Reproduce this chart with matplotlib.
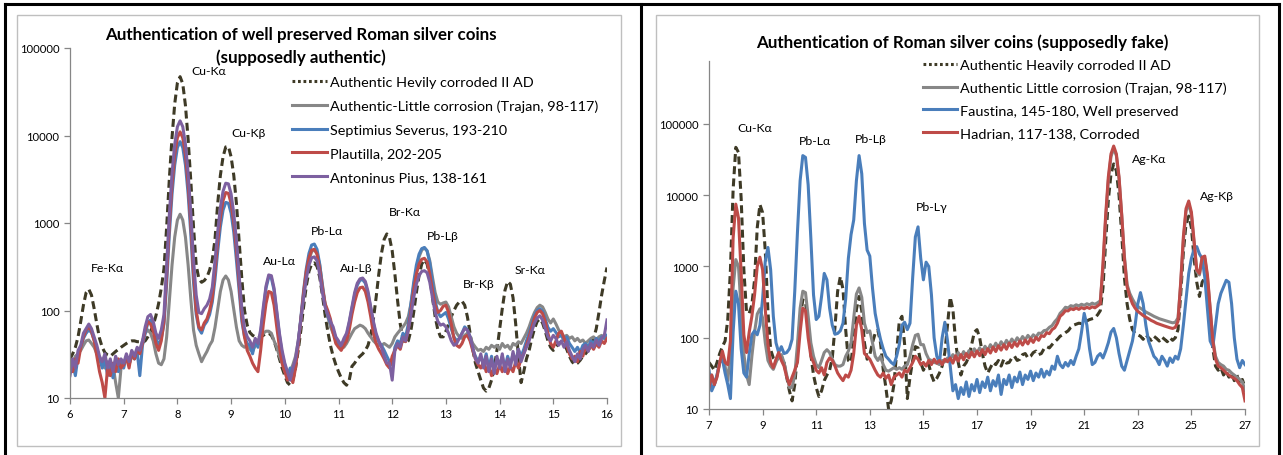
import numpy as np
import matplotlib
matplotlib.use("Agg")
import matplotlib.pyplot as plt
from matplotlib.lines import Line2D
from matplotlib.patches import Rectangle
from matplotlib.ticker import FixedLocator, FuncFormatter, NullLocator

plt.rcParams['font.family'] = ['Lato', 'DejaVu Sans']

# ---------------------------------------------------------------------------
# XRF spectra, counts per channel
# ---------------------------------------------------------------------------
# Left panel: 6 - 16 keV, 0.05 keV channels (one row per keV)
energy_authentic = np.round(np.arange(6.0, 16.0 + 1e-9, 0.05), 2)

corroded_2ad_a = [
    28, 32, 38, 50, 75, 115, 160, 175, 150, 105, 70, 48, 38, 33, 31, 30, 32, 34, 36, 38,
    40, 42, 44, 45, 45, 44, 44, 43, 45, 50, 58, 68, 87, 120, 180, 300, 900, 3200, 9500, 23000,
    40000, 47000, 39000, 22000, 9000, 3000, 900, 330, 230, 210, 220, 240, 290, 380, 650, 1650, 3500, 5700, 7400, 7500,
    5700, 3500, 1650, 620, 230, 100, 68, 56, 52, 50, 48, 50, 52, 55, 55, 52, 45, 36, 28, 22,
    18, 15, 14, 16, 22, 35, 60, 110, 190, 280, 340, 350, 320, 240, 150, 90, 58, 40, 30, 24,
    20, 17, 15, 14, 16, 23, 25, 28, 30, 32, 35, 40, 52, 80, 140, 260, 450, 650, 750, 680,
    480, 260, 130, 70, 48, 42, 45, 60, 95, 160, 250, 340, 380, 340, 240, 140, 85, 60, 50, 50,
    58, 70, 85, 100, 115, 125, 128, 115, 85, 55, 36, 25, 20, 16, 13, 12, 13, 16, 22, 35,
    60, 105, 170, 215, 200, 140, 70, 30, 15, 20, 28, 35, 48, 62, 75, 80, 72, 58, 45, 38,
    35, 38, 42, 44, 42, 36, 30, 26, 24, 25, 27, 30, 32, 35, 40, 48, 62, 95, 150, 220,
    310,
]
trajan_a = [
    28, 25, 30, 32, 35, 40, 45, 46, 42, 38, 32, 28, 24, 22, 26, 20, 24, 15, 10, 22,
    25, 28, 24, 30, 28, 32, 35, 45, 55, 60, 55, 45, 32, 25, 24, 28, 50, 130, 330, 690,
    1080, 1260, 1080, 690, 330, 135, 60, 40, 32, 26, 30, 34, 40, 45, 64, 103, 165, 223, 248, 223,
    165, 103, 64, 45, 40, 38, 40, 36, 34, 40, 45, 50, 55, 58, 58, 55, 45, 38, 30, 25,
    20, 18, 20, 24, 30, 45, 80, 150, 260, 380, 470, 500, 450, 330, 200, 120, 85, 65, 55, 48,
    42, 40, 38, 42, 48, 55, 62, 65, 68, 66, 62, 55, 50, 45, 42, 40, 40, 42, 40, 38,
    42, 50, 55, 60, 65, 72, 85, 120, 190, 290, 410, 490, 520, 480, 370, 240, 160, 125, 118, 122,
    125, 110, 85, 65, 55, 50, 48, 52, 55, 50, 42, 38, 35, 36, 34, 38, 36, 40, 38, 40,
    36, 42, 38, 40, 36, 42, 40, 44, 42, 48, 55, 65, 80, 95, 108, 115, 110, 95, 80, 72,
    80, 70, 60, 55, 50, 52, 48, 50, 45, 48, 44, 46, 42, 45, 48, 50, 46, 50, 52, 48,
    50,
]
severus = [
    20, 25, 18, 30, 38, 48, 55, 60, 56, 46, 36, 28, 22, 28, 18, 24, 17, 26, 20, 25,
    22, 30, 24, 32, 28, 34, 18, 40, 55, 72, 78, 65, 48, 40, 48, 70, 200, 740, 2130, 4590,
    7280, 8500, 7280, 4590, 2130, 740, 210, 90, 62, 55, 68, 75, 90, 125, 225, 470, 900, 1400, 1720, 1680,
    1300, 780, 370, 165, 75, 50, 42, 40, 32, 45, 38, 55, 100, 180, 240, 235, 170, 95, 52, 32,
    24, 18, 22, 18, 26, 42, 85, 170, 300, 450, 560, 575, 500, 340, 190, 115, 88, 72, 60, 48,
    42, 38, 44, 52, 72, 105, 150, 195, 222, 225, 205, 155, 105, 72, 52, 44, 40, 35, 30, 26,
    24, 38, 45, 42, 55, 50, 70, 120, 210, 330, 440, 510, 525, 480, 350, 210, 130, 95, 85, 90,
    95, 80, 62, 50, 45, 48, 55, 65, 60, 50, 36, 30, 26, 30, 24, 32, 22, 30, 20, 28,
    24, 30, 22, 30, 24, 32, 26, 36, 30, 36, 45, 55, 70, 88, 100, 105, 98, 80, 64, 58,
    62, 56, 50, 52, 45, 50, 42, 38, 34, 38, 33, 40, 42, 38, 45, 42, 48, 44, 50, 48,
    52,
]
plautilla = [
    22, 20, 28, 25, 38, 50, 60, 65, 58, 45, 30, 20, 15, 10, 22, 18, 25, 20, 28, 22,
    24, 30, 22, 34, 28, 36, 32, 42, 60, 75, 70, 58, 42, 35, 45, 75, 250, 950, 2750, 5940,
    9430, 11000, 9430, 5940, 2750, 960, 270, 100, 65, 60, 72, 80, 100, 140, 280, 600, 1150, 1800, 2230, 2180,
    1680, 1000, 480, 200, 85, 50, 35, 30, 25, 22, 20, 35, 70, 120, 165, 160, 115, 65, 38, 25,
    20, 16, 18, 15, 22, 40, 80, 160, 280, 400, 490, 500, 440, 300, 180, 120, 100, 80, 55, 42,
    38, 35, 40, 45, 60, 90, 125, 160, 182, 185, 165, 125, 85, 55, 42, 36, 32, 28, 24, 22,
    30, 35, 40, 36, 48, 44, 60, 100, 170, 260, 340, 385, 395, 360, 260, 170, 115, 95, 100, 112,
    115, 95, 70, 48, 40, 38, 42, 50, 52, 45, 35, 28, 24, 22, 26, 20, 24, 18, 22, 19,
    24, 20, 25, 19, 23, 20, 26, 22, 28, 32, 40, 50, 65, 82, 95, 100, 92, 75, 55, 42,
    38, 45, 55, 58, 48, 40, 32, 28, 30, 26, 34, 30, 38, 35, 40, 36, 42, 38, 45, 42,
    48,
]
antoninus = [
    18, 28, 22, 35, 40, 55, 62, 70, 62, 50, 40, 30, 26, 32, 22, 28, 20, 30, 24, 28,
    25, 32, 26, 35, 30, 38, 35, 45, 65, 85, 90, 75, 55, 48, 60, 90, 330, 1250, 3700, 7900,
    12600, 14700, 12600, 7900, 3700, 1300, 380, 150, 95, 92, 105, 115, 135, 185, 370, 790, 1500, 2300, 2850, 2800,
    2150, 1280, 620, 250, 105, 62, 50, 45, 38, 48, 42, 60, 110, 190, 255, 250, 180, 100, 55, 35,
    25, 20, 16, 22, 28, 45, 80, 140, 230, 330, 400, 410, 370, 260, 160, 110, 90, 75, 65, 50,
    45, 40, 48, 55, 75, 110, 160, 205, 230, 235, 215, 165, 110, 75, 55, 45, 38, 30, 25, 25,
    16, 35, 42, 38, 50, 45, 60, 90, 140, 200, 250, 280, 285, 270, 210, 140, 95, 75, 68, 70,
    65, 55, 45, 40, 42, 48, 55, 62, 60, 50, 38, 28, 25, 32, 22, 30, 20, 28, 19, 30,
    22, 32, 20, 28, 22, 34, 24, 36, 26, 32, 38, 45, 58, 72, 82, 87, 78, 62, 50, 45,
    52, 48, 40, 45, 38, 44, 35, 30, 26, 32, 28, 36, 40, 34, 42, 38, 46, 40, 48, 52,
    78,
]

# Right panel: 7 - 27 keV, 0.1 keV channels (one row per keV)
energy_fake = np.round(np.arange(7.0, 27.0 + 1e-9, 0.1), 1)

corroded_2ad_b = [
    45, 40, 35, 45, 60, 75, 90, 180, 900, 12000,
    47000, 40000, 9000, 900, 230, 220, 290, 650, 3500, 7400,
    5700, 1650, 230, 68, 52, 48, 52, 55, 45, 28,
    18, 13, 22, 60, 190, 340, 320, 150, 58, 30,
    20, 15, 18, 25, 30, 35, 52, 140, 450, 720,
    480, 130, 48, 45, 95, 250, 380, 240, 85, 50,
    58, 85, 115, 128, 85, 36, 20, 10, 13, 22,
    60, 170, 200, 80, 14, 28, 48, 75, 72, 45,
    35, 42, 42, 30, 24, 27, 32, 40, 62, 150,
    370, 250, 90, 45, 30, 40, 45, 55, 80, 120,
    130, 100, 60, 40, 32, 38, 45, 42, 48, 40,
    50, 44, 45, 52, 55, 48, 50, 58, 60, 52,
    55, 62, 65, 58, 60, 70, 75, 72, 80, 88,
    95, 105, 110, 118, 125, 140, 150, 155, 160, 158,
    165, 172, 180, 185, 190, 210, 240, 500, 2200, 8500,
    20000, 27500, 22000, 10000, 2800, 700, 300, 180, 130, 115,
    110, 105, 95, 110, 100, 92, 105, 98, 90, 102,
    95, 88, 100, 92, 100, 130, 400, 1600, 4000, 5100,
    3500, 1300, 600, 380, 600, 700, 450, 180, 70, 40,
    35, 38, 30, 34, 28, 32, 25, 30, 22, 26,
    20,
]
trajan_b = [
    25, 30, 22, 30, 45, 58, 40, 25, 60, 500,
    1250, 1000, 250, 60, 30, 22, 55, 120, 215, 255,
    190, 85, 48, 40, 36, 45, 55, 58, 45, 30,
    20, 20, 30, 80, 260, 450, 430, 200, 85, 55,
    42, 38, 48, 62, 68, 62, 50, 42, 40, 40,
    42, 55, 65, 85, 190, 410, 500, 370, 160, 118,
    125, 85, 55, 48, 55, 42, 35, 34, 36, 38,
    36, 38, 36, 40, 42, 55, 80, 108, 112, 80,
    80, 60, 50, 48, 45, 44, 42, 48, 46, 52,
    50, 58, 50, 62, 53, 64, 55, 66, 58, 70,
    61, 72, 64, 76, 66, 80, 70, 84, 73, 88,
    77, 92, 81, 96, 85, 100, 89, 104, 93, 108,
    97, 110, 102, 116, 115, 126, 128, 140, 148, 168,
    185, 220, 240, 268, 262, 282, 275, 290, 280, 295,
    285, 300, 290, 306, 295, 310, 330, 900, 4500, 16000,
    35000, 45000, 36000, 17000, 5200, 1400, 560, 420, 350, 300,
    275, 260, 245, 230, 220, 210, 200, 192, 185, 180,
    175, 170, 166, 162, 165, 190, 550, 2300, 6000, 7600,
    5300, 2100, 850, 760, 1250, 1300, 700, 250, 95, 55,
    45, 42, 40, 36, 35, 32, 30, 28, 26, 24,
    18,
]
faustina = [
    35, 18, 22, 30, 45, 50, 32, 22, 14, 120,
    450, 300, 70, 32, 28, 60, 110, 125, 110, 150,
    350, 1200, 1850, 900, 200, 85, 62, 75, 60, 62,
    70, 95, 450, 3000, 16000, 36000, 34000, 14000, 2500, 400,
    180, 200, 380, 800, 650, 260, 150, 112, 115, 125,
    160, 350, 1300, 2800, 4500, 16000, 36000, 20000, 4000, 1700,
    1400, 500, 220, 140, 95, 70, 55, 50, 45, 42,
    55, 80, 150, 165, 130, 160, 700, 2600, 3600, 1300,
    650, 1150, 1000, 400, 100, 55, 45, 100, 165, 90,
    40, 18, 22, 14, 20, 16, 24, 15, 22, 18,
    26, 17, 24, 20, 28, 18, 25, 21, 30, 16,
    26, 22, 30, 20, 28, 24, 33, 22, 30, 26,
    34, 25, 32, 28, 36, 28, 34, 30, 40, 36,
    55, 42, 38, 45, 40, 48, 42, 55, 70, 120,
    220, 150, 70, 42, 45, 55, 60, 52, 65, 85,
    120, 135, 100, 60, 40, 35, 48, 65, 90, 150,
    300, 430, 300, 150, 90, 70, 55, 50, 42, 55,
    48, 40, 52, 45, 55, 50, 70, 150, 350, 800,
    1300, 1750, 1900, 1500, 1300, 700, 250, 90, 75, 150,
    300, 420, 520, 640, 600, 300, 100, 50, 38, 48,
    42,
]
hadrian = [
    20, 30, 22, 28, 45, 65, 45, 42, 90, 2500,
    7500, 4800, 800, 110, 62, 120, 200, 400, 1000, 1350,
    900, 250, 80, 45, 38, 50, 62, 48, 40, 28,
    22, 28, 35, 45, 120, 260, 240, 100, 55, 45,
    35, 32, 38, 30, 45, 52, 48, 40, 32, 28,
    25, 30, 28, 35, 60, 150, 200, 130, 60, 55,
    50, 42, 35, 30, 28, 32, 27, 30, 22, 28,
    30, 32, 28, 35, 33, 38, 45, 55, 50, 42,
    45, 40, 48, 42, 50, 44, 48, 42, 50, 46,
    52, 44, 56, 47, 58, 49, 60, 52, 63, 54,
    65, 56, 68, 58, 70, 61, 74, 64, 77, 67,
    80, 69, 84, 73, 86, 76, 90, 79, 93, 82,
    97, 86, 101, 92, 107, 104, 118, 114, 130, 138,
    160, 200, 215, 240, 238, 256, 248, 262, 250, 265,
    255, 268, 258, 272, 263, 280, 300, 1100, 5200, 18000,
    38000, 49000, 38000, 18000, 5300, 1300, 520, 380, 300, 260,
    235, 220, 205, 195, 185, 175, 168, 160, 155, 150,
    146, 142, 138, 135, 140, 170, 600, 2600, 6500, 8300,
    5800, 2300, 900, 800, 1350, 1400, 750, 260, 90, 50,
    40, 38, 35, 32, 30, 28, 27, 25, 22, 20,
    13,
]

labels_authentic = [
    "Authentic Hevily corroded II AD",
    "Authentic-Little corrosion (Trajan, 98-117)",
    "Septimius Severus, 193-210",
    "Plautilla, 202-205",
    "Antoninus Pius, 138-161",
]
labels_fake = [
    "Authentic Heavily corroded II AD",
    "Authentic Little corrosion (Trajan, 98-117)",
    "Faustina, 145-180, Well preserved",
    "Hadrian, 117-138, Corroded",
]

# Emission-line labels: (text, energy keV, counts)
lines_authentic = [
    ("Fe-K\u03b1", 6.69, 314), ("Cu-K\u03b1", 8.59, 54600), ("Cu-K\u03b2", 9.33, 10700),
    ("Au-L\u03b1", 9.91, 368), ("Pb-L\u03b1", 10.79, 811), ("Au-L\u03b2", 11.34, 306),
    ("Br-K\u03b1", 12.24, 1371), ("Pb-L\u03b2", 12.95, 729), ("Br-K\u03b2", 13.62, 206),
    ("Sr-K\u03b1", 14.57, 298),
]
lines_fake = [
    ("Cu-K\u03b1", 8.71, 87900), ("Pb-L\u03b1", 10.97, 59600), ("Pb-L\u03b2", 13.02, 61600),
    ("Pb-L\u03b3", 15.31, 6840), ("Ag-K\u03b1", 23.43, 32300), ("Ag-K\u03b2", 25.94, 9770),
]

# ---------------------------------------------------------------------------
C_CORR = '#3e3a26'
C_TRAJ = '#878787'
C_BLUE = '#4a7ebb'
C_RED = '#be4b48'
C_PURP = '#7d60a0'
AXIS_GREY = '#868686'
LW = 2.2
DASH = (0, (2.6, 1.4))
DOTS = (0, (0.9, 0.9))

W, H = 1283, 456
fig = plt.figure(figsize=(W / 100, H / 100), dpi=100)
renderer = fig.canvas.get_renderer()


def fx(px):
    return px / W


def fy(py):
    return 1 - py / H


def size_for_width(sample, width_px, weight='normal'):
    """Font size (pt) at which `sample` renders `width_px` pixels wide."""
    t = fig.text(0, 0, sample, fontsize=10, fontweight=weight)
    w = t.get_window_extent(renderer).width
    t.remove()
    return 10 * width_px / w


FS_TITLE = size_for_width("Authentication of well preserved Roman silver coins", 394, 'bold')
FS_LEGEND = size_for_width("Authentic-Little corrosion (Trajan, 98-117)", 267)
FS_PEAK = size_for_width("Cu-K\u03b1", 35)
FS_TICK = size_for_width("100000", 39)


def style_axes(ax, xticks, ylim):
    ax.set_yscale('log')
    ax.set_ylim(*ylim)
    for s in ('top', 'right'):
        ax.spines[s].set_visible(False)
    for s in ('left', 'bottom'):
        ax.spines[s].set_color(AXIS_GREY)
        ax.spines[s].set_linewidth(0.9)
    ax.xaxis.set_major_locator(FixedLocator(xticks))
    ax.yaxis.set_major_locator(FixedLocator([10, 100, 1000, 10000, 100000]))
    ax.yaxis.set_minor_locator(NullLocator())
    ax.yaxis.set_major_formatter(FuncFormatter(lambda v, p: f"{int(round(v))}"))
    ax.xaxis.set_major_formatter(FuncFormatter(lambda v, p: f"{int(round(v))}"))
    ax.tick_params(axis='both', which='major', direction='out', length=4,
                   width=0.9, color=AXIS_GREY, labelsize=FS_TICK, labelcolor='black')
    ax.set_facecolor('none')


def place_legend(ax, handles, labels, text_x, row_first, row_last, handle_x0):
    """Legend whose label text starts at text_x and whose rows are centred
    between row_first and row_last (pixel coordinates from the top-left)."""
    fs_px = FS_LEGEND * 100 / 72
    n = len(labels)
    target_step = (row_last - row_first) / (n - 1)
    spacing = 0.45
    kw = dict(loc='upper left', bbox_transform=fig.transFigure, frameon=False,
              fontsize=FS_LEGEND, handlelength=(text_x - 3 - handle_x0) / fs_px,
              handletextpad=3 / fs_px, borderpad=0, borderaxespad=0)
    anchor = (fx(handle_x0), fy(row_first - 10))
    for _ in range(3):
        leg = ax.legend(handles, labels, bbox_to_anchor=anchor,
                        labelspacing=spacing, **kw)
        fig.canvas.draw()
        boxes = [t.get_window_extent(renderer) for t in leg.get_texts()]
        centres = [(b.y0 + b.y1) / 2 for b in boxes]
        step = (centres[0] - centres[-1]) / (n - 1)
        spacing += (target_step - step) / fs_px
        dx = text_x - boxes[0].x0
        dy = (H - row_first) - centres[0]
        anchor = (anchor[0] + dx / W, anchor[1] + dy / H)
    leg = ax.legend(handles, labels, bbox_to_anchor=anchor,
                    labelspacing=spacing, **kw)
    return leg


# ---------------- left panel ----------------
axL = fig.add_axes([fx(70), fy(399), fx(607) - fx(70), fy(49) - fy(399)])
axL.plot(energy_authentic, corroded_2ad_a, color=C_CORR, lw=LW, ls=DASH)
axL.plot(energy_authentic, trajan_a, color=C_TRAJ, lw=LW)
axL.plot(energy_authentic, severus, color=C_BLUE, lw=LW)
axL.plot(energy_authentic, plautilla, color=C_RED, lw=LW)
axL.plot(energy_authentic, antoninus, color=C_PURP, lw=LW)
axL.set_xlim(6, 16)
style_axes(axL, list(range(6, 17)), (10, 100000))
for txt, e, c in lines_authentic:
    axL.text(e, c, txt, ha='center', va='center', fontsize=FS_PEAK)

handles_L = [
    Line2D([], [], color=C_CORR, lw=LW, ls=DOTS),
    Line2D([], [], color=C_TRAJ, lw=LW),
    Line2D([], [], color=C_BLUE, lw=LW),
    Line2D([], [], color=C_RED, lw=LW),
    Line2D([], [], color=C_PURP, lw=LW),
]

fig.text(fx(301), fy(35), "Authentication of well preserved Roman silver coins",
         ha='center', va='center', fontsize=FS_TITLE, fontweight='bold')
fig.text(fx(301), fy(58), "(supposedly authentic)",
         ha='center', va='center', fontsize=FS_TITLE, fontweight='bold')

# ---------------- right panel ----------------
axR = fig.add_axes([fx(709), fy(410), fx(1245) - fx(709), fy(62) - fy(410)])
axR.plot(energy_fake, corroded_2ad_b, color=C_CORR, lw=LW, ls=DASH)
axR.plot(energy_fake, trajan_b, color=C_TRAJ, lw=LW)
axR.plot(energy_fake, faustina, color=C_BLUE, lw=LW)
axR.plot(energy_fake, hadrian, color=C_RED, lw=LW)
axR.set_xlim(7, 27)
style_axes(axR, list(range(7, 28, 2)), (10, 10 ** 5.884))
for txt, e, c in lines_fake:
    axR.text(e, c, txt, ha='center', va='center', fontsize=FS_PEAK)

fig.text(fx(962), fy(43), "Authentication of Roman silver coins (supposedly fake)",
         ha='center', va='center', fontsize=FS_TITLE, fontweight='bold')

place_legend(axL, handles_L, labels_authentic, 330, 83, 178, 292)
place_legend(axR, handles_L[:4], labels_fake, 960, 66, 134, 923)

# ---------------- chart frames ----------------
for x0, x1 in ((17, 621), (656, 1259)):
    fig.add_artist(Rectangle((fx(x0), fy(447)), fx(x1) - fx(x0), fy(16) - fy(447),
                             transform=fig.transFigure, fill=False,
                             edgecolor='#bfbfbf', lw=1.0))
frame_kw = dict(transform=fig.transFigure, color='black', lw=2.2)
fig.add_artist(Line2D([fx(5), fx(1279)], [fy(5), fy(5)], **frame_kw))
for xp in (5, 641, 1279):
    fig.add_artist(Line2D([fx(xp), fx(xp)], [fy(5), fy(460)], **frame_kw))

fig.savefig('out.png', dpi=100)
